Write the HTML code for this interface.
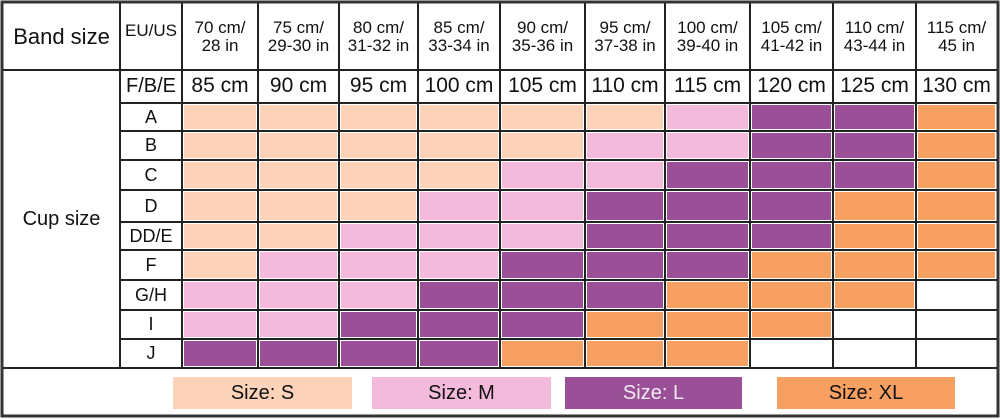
<!DOCTYPE html>
<html><head><meta charset="utf-8"><style>
body{margin:0;width:1000px;height:420px;background:#fff;position:relative;overflow:hidden;font-family:"Liberation Sans Narrow","Liberation Sans","DejaVu Sans",sans-serif;color:#111}
.a{position:absolute}
.c{position:absolute}
.t{position:absolute;display:flex;align-items:center;justify-content:center;text-align:center;line-height:1.05}
</style></head><body>
<div id="cells"></div>
<svg class="a" style="left:0;top:0" width="1000" height="420" id="g"></svg>
<div class="t" style="left:3px;top:3px;width:117px;height:67px;font-size:22px">Band size</div>
<div class="t" style="left:120px;top:8px;width:62px;height:46px;font-size:17px">EU/US</div>
<div class="t" style="left:182px;top:3px;width:76px;height:67px;font-size:17px">70 cm/<br>28 in</div>
<div class="t" style="left:258px;top:3px;width:81px;height:67px;font-size:17px">75 cm/<br>29-30 in</div>
<div class="t" style="left:339px;top:3px;width:79px;height:67px;font-size:17px">80 cm/<br>31-32 in</div>
<div class="t" style="left:418px;top:3px;width:82px;height:67px;font-size:17px">85 cm/<br>33-34 in</div>
<div class="t" style="left:500px;top:3px;width:85px;height:67px;font-size:17px">90 cm/<br>35-36 in</div>
<div class="t" style="left:585px;top:3px;width:80px;height:67px;font-size:17px">95 cm/<br>37-38 in</div>
<div class="t" style="left:665px;top:3px;width:85px;height:67px;font-size:17px">100 cm/<br>39-40 in</div>
<div class="t" style="left:750px;top:3px;width:83px;height:67px;font-size:17px">105 cm/<br>41-42 in</div>
<div class="t" style="left:833px;top:3px;width:83px;height:67px;font-size:17px">110 cm/<br>43-44 in</div>
<div class="t" style="left:916px;top:3px;width:81px;height:67px;font-size:17px">115 cm/<br>45 in</div>
<div class="t" style="left:120px;top:70px;width:62px;height:33px;font-size:20px">F/B/E</div>
<div class="t" style="left:182px;top:70px;width:76px;height:33px;font-size:21px">85 cm</div>
<div class="t" style="left:258px;top:70px;width:81px;height:33px;font-size:21px">90 cm</div>
<div class="t" style="left:339px;top:70px;width:79px;height:33px;font-size:21px">95 cm</div>
<div class="t" style="left:418px;top:70px;width:82px;height:33px;font-size:21px">100 cm</div>
<div class="t" style="left:500px;top:70px;width:85px;height:33px;font-size:21px">105 cm</div>
<div class="t" style="left:585px;top:70px;width:80px;height:33px;font-size:21px">110 cm</div>
<div class="t" style="left:665px;top:70px;width:85px;height:33px;font-size:21px">115 cm</div>
<div class="t" style="left:750px;top:70px;width:83px;height:33px;font-size:21px">120 cm</div>
<div class="t" style="left:833px;top:70px;width:83px;height:33px;font-size:21px">125 cm</div>
<div class="t" style="left:916px;top:70px;width:81px;height:33px;font-size:21px">130 cm</div>
<div class="t" style="left:3px;top:70px;width:117px;height:298px;font-size:20px">Cup size</div>
<div class="t" style="left:120px;top:103px;width:62px;height:28px;font-size:18px">A</div>
<div class="t" style="left:120px;top:131px;width:62px;height:29px;font-size:18px">B</div>
<div class="t" style="left:120px;top:160px;width:62px;height:30px;font-size:18px">C</div>
<div class="t" style="left:120px;top:190px;width:62px;height:32px;font-size:18px">D</div>
<div class="t" style="left:120px;top:222px;width:62px;height:28px;font-size:18px">DD/E</div>
<div class="t" style="left:120px;top:250px;width:62px;height:30px;font-size:18px">F</div>
<div class="t" style="left:120px;top:280px;width:62px;height:30px;font-size:18px">G/H</div>
<div class="t" style="left:120px;top:310px;width:62px;height:29px;font-size:18px">I</div>
<div class="t" style="left:120px;top:339px;width:62px;height:29px;font-size:18px">J</div>
<div class="t" style="left:173px;top:377px;width:179px;height:32px;background:#fcd3b8;font-size:20px">Size: S</div>
<div class="t" style="left:372px;top:377px;width:179px;height:32px;background:#f4badb;font-size:20px">Size: M</div>
<div class="t" style="left:565px;top:377px;width:177px;height:32px;background:#9a5096;font-size:20px;color:#f4eaf4">Size: L</div>
<div class="t" style="left:777px;top:377px;width:178px;height:32px;background:#f8a062;font-size:20px">Size: XL</div>
<script>
var xs=[182,258,339,418,500,585,665,750,833,916,997];
var ys=[103,131,160,190,222,250,280,310,339,368];
var rows=["SSSSSSMLLX","SSSSSMMLLX","SSSSMMLLLX","SSSMMLLLXX","SSMMMLLLXX","SMMMLLLXXX","MMMLLLXXXW","MMLLLXXXWW","LLLLXXXWWW"];
var col={S:"#fcd3b8",M:"#f4badb",L:"#9a5096",X:"#f8a062",W:"#fff"};
var h="";
for(var r=0;r<9;r++)for(var c=0;c<10;c++){
h+='<div class="c" style="left:'+(xs[c]+2)+'px;top:'+(ys[r]+2)+'px;width:'+(xs[c+1]-xs[c]-4)+'px;height:'+(ys[r+1]-ys[r]-4)+'px;background:'+col[rows[r][c]]+'"></div>';}
document.getElementById("cells").innerHTML=h;
var s="";
function L(x1,y1,x2,y2,w){s+='<line x1="'+x1+'" y1="'+y1+'" x2="'+x2+'" y2="'+y2+'" stroke="#222" stroke-width="'+(w||2)+'"/>';}
s+='<rect x="2" y="2" width="996" height="414" fill="none" stroke="#333" stroke-width="3"/>';
L(3,70,997,70);L(120,3,120,368);
for(var i=0;i<xs.length-1;i++)L(xs[i],3,xs[i],368);
L(120,103,997,103);
for(var j=1;j<ys.length;j++)L(120,ys[j],997,ys[j]);
L(3,368,997,368);
document.getElementById("g").innerHTML=s;
</script>
</body></html>
